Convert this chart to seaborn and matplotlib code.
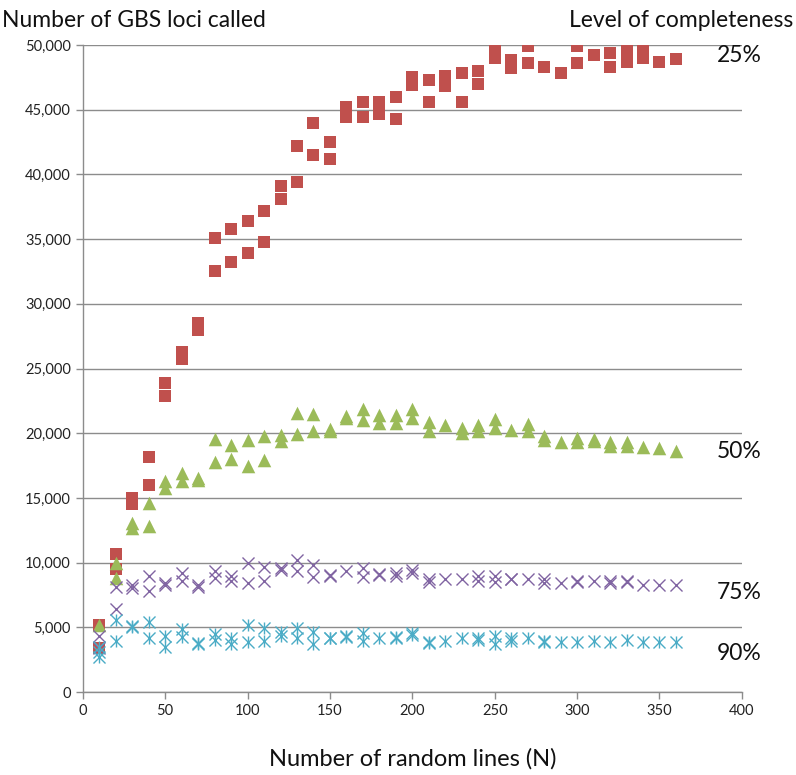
import matplotlib
matplotlib.use("Agg")
import matplotlib.pyplot as plt
from matplotlib.ticker import FuncFormatter
import seaborn as sns
import pandas as pd

# number of random lines sampled
n_lines = [10, 20, 30, 40, 50, 60, 70, 80, 90, 100, 110, 120, 130, 140, 150, 160, 170, 180,
           190, 200, 210, 220, 230, 240, 250, 260, 270, 280, 290, 300, 310, 320, 330, 340, 350, 360]

# replicate counts of GBS loci per N, one list per level of completeness
loci_25 = [[5200, 3400], [10700, 9500], [15000, 14500], [18200, 16000], [23900, 22900],
           [26300, 25700], [28500, 28000], [35100, 32500], [35800, 33200], [36400, 33900],
           [37200, 34800], [39100, 38100], [42200, 39400], [44000, 41500], [42500, 41200],
           [45200, 44400], [45600, 44400], [45600, 44700], [46000, 44300], [47500, 46900],
           [47300, 45600], [47600, 46800], [47800, 45600], [48000, 47000], [49600, 49000],
           [48800, 48200], [49900, 48600], [48300], [47800], [49900, 48600],
           [49200], [49400, 48300], [49600, 48700], [49500, 49000], [48700], [48900]]

loci_50 = [[5200], [10000, 8850], [13100, 12700], [14600, 12800], [16300, 15800],
           [16900, 16300], [16550, 16400], [19550, 17800], [19100, 18000], [19500, 17500],
           [19750, 17900], [19850, 19400], [21550, 19950], [21500, 20150], [20300, 20150],
           [21350, 21150], [21850, 21000], [21400, 20800], [21400, 20800], [21850, 21200],
           [20850, 20200], [20650], [20400, 20050], [20650, 20150], [21100, 20400],
           [20250], [20700, 20150], [19750, 19450], [19300], [19600, 19350],
           [19550, 19400], [19350, 19050], [19350, 19050], [18950], [18850], [18650]]

loci_75 = [[4300, 3400], [8100, 6400], [8300, 8050], [9000, 7800], [8300, 8400],
           [9200, 8550], [8150, 8250], [9350, 8800], [8950, 8550], [9950, 8450],
           [9700, 8550], [9600, 9450], [10200, 9350], [9800, 8900], [9050, 8950],
           [9350], [9600, 8900], [9050, 9100], [9200, 8950], [9400, 9200],
           [8750, 8500], [8700], [8700], [8950, 8550], [8950, 8500],
           [8700, 8700], [8750], [8700, 8450], [8400], [8550, 8500],
           [8550], [8550, 8400], [8550, 8500], [8300], [8300], [8300]]

loci_90 = [[3500, 3100, 2700], [5550, 3950], [5100, 5000], [5400, 4150], [4350, 3500],
           [4900, 4250], [3750, 3800], [4450, 4000], [4200, 3750], [5150, 3850],
           [4950, 3950], [4650, 4350], [4950, 4200], [4650, 3700], [4200, 4150],
           [4350, 4250], [4550, 3950], [4200], [4250, 4200], [4550, 4400],
           [3900, 3800], [3950], [4200], [4200, 4000], [4350, 3700],
           [4150, 3950], [4200], [3950, 3900], [3850], [3850],
           [3950], [3850], [4050], [3850], [3850], [3850]]

levels = ["25%", "50%", "75%", "90%"]
colors = ["#C0504D", "#9BBB59", "#8064A2", "#4BACC6"]

rows = []
for lev, series in zip(levels, [loci_25, loci_50, loci_75, loci_90]):
    for n, reps in zip(n_lines, series):
        for v in reps:
            rows.append({"N": n, "loci": v, "level": lev})
df = pd.DataFrame(rows)

sns.set_style("white")
plt.rcParams["font.family"] = ["Lato", "DejaVu Sans"]

fig = plt.figure(figsize=(7.96, 7.75), dpi=100)
ax = fig.add_axes([0.104, 0.107, 0.828, 0.835])

grid_c = "#8c8c8c"
ax.set_axisbelow(True)
ax.yaxis.grid(True, color=grid_c, lw=1)

sub = df[df.level == "25%"]
sns.scatterplot(data=sub, x="N", y="loci", marker="s", s=80, color=colors[0],
                edgecolor=colors[0], linewidth=0, ax=ax, zorder=3)
sub = df[df.level == "50%"]
sns.scatterplot(data=sub, x="N", y="loci", marker="^", s=95, color=colors[1],
                edgecolor=colors[1], linewidth=0, ax=ax, zorder=3)
sub = df[df.level == "75%"]
sns.scatterplot(data=sub, x="N", y="loci", marker="x", s=75, color=colors[2],
                linewidth=1.0, ax=ax, zorder=4)
sub = df[df.level == "90%"]
# asterisk = x plus vertical bar
sns.scatterplot(data=sub, x="N", y="loci", marker="x", s=75, color=colors[3],
                linewidth=1.0, ax=ax, zorder=4)
sns.scatterplot(data=sub, x="N", y="loci", marker="|", s=75, color=colors[3],
                linewidth=1.0, ax=ax, zorder=4)

ax.set_xlim(0, 400)
ax.set_ylim(0, 50000)
ax.set_xticks(range(0, 401, 50))
ax.set_yticks(range(0, 50001, 5000))
ax.yaxis.set_major_formatter(FuncFormatter(lambda v, p: f"{int(v):,}"))
ax.tick_params(axis="both", labelsize=10.5, colors=grid_c, labelcolor="#222222",
               length=5, width=1, direction="out", left=True, bottom=True)
for side in ["top", "right"]:
    ax.spines[side].set_visible(False)
for side in ["left", "bottom"]:
    ax.spines[side].set_color(grid_c)
    ax.spines[side].set_linewidth(1)

ax.set_xlabel("Number of random lines (N)", fontsize=17, labelpad=22, color="#111111")
ax.set_ylabel("")

fig.text(0.003, 0.974, "Number of GBS loci called", fontsize=16.5, va="center", ha="left",
         color="#111111")
fig.text(0.996, 0.974, "Level of completeness", fontsize=16.5, va="center", ha="right",
         color="#111111")

label_y = [49200, 18550, 7730, 3000]
for lev, yv in zip(levels, label_y):
    ax.text(385, yv, lev, fontsize=16.5, va="center", ha="left", clip_on=False,
            color="#111111")

fig.savefig("out.png", dpi=100)
